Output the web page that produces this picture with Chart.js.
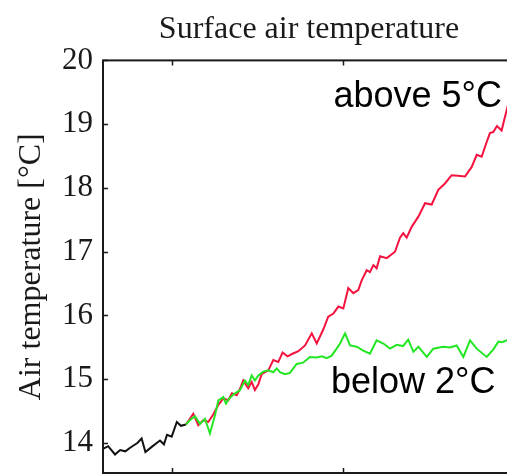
<!DOCTYPE html>
<html>
<head>
<meta charset="utf-8">
<script src="https://cdn.jsdelivr.net/npm/chart.js@4.4.0/dist/chart.umd.min.js"></script>
<style>
html, body { margin: 0; padding: 0; background: #fff; overflow: hidden; }
#wrap { width: 507px; height: 474px; overflow: hidden; }
</style>
</head>
<body>
<div id="wrap"><canvas id="chartline" width="530" height="474"></canvas></div>
<script>
// historical run (black)
var histYears = [1860, 1863, 1867, 1870, 1873, 1876, 1880, 1882.5, 1884.7, 1888.4, 1891.3, 1893.2, 1895.5, 1897.3, 1900, 1903, 1905.4, 1908.3];
var histTemps = [13.91, 13.95, 13.82, 13.89, 13.87, 13.93, 14.0, 14.07, 13.86, 13.94, 14.0, 14.04, 13.98, 14.13, 14.10, 14.33, 14.27, 14.29];

// "above 5°C" run (red)
var aboveYears = [1908.3, 1912.6, 1915.5, 1918.4, 1921.3, 1924.3, 1927.2, 1930.1, 1933.0, 1935.1, 1937.9, 1939.8, 1941.7, 1944.6, 1946.6, 1948.5, 1950.5, 1952.4, 1956.3, 1959.2, 1962.1, 1964.6, 1967.5, 1970.4, 1973.8, 1977.7, 1981.6, 1984.5, 1988.3, 1991.2, 1994.2, 1997.1, 2000.0, 2002.9, 2005.8, 2008.7, 2010.7, 2013.6, 2015.5, 2017.5, 2019.4, 2021.4, 2025.3, 2028.2, 2030.1, 2033.0, 2034.9, 2036.9, 2039.8, 2043.7, 2047.6, 2051.5, 2055.3, 2059.2, 2063.1, 2066.8, 2070.9, 2074.8, 2077.7, 2080.6, 2083.5, 2085.4, 2087.4, 2089.5, 2092.2, 2094.2, 2095.9, 2099];
var aboveTemps = [14.29, 14.46, 14.28, 14.36, 14.33, 14.45, 14.60, 14.70, 14.67, 14.78, 14.75, 14.85, 14.98, 14.86, 14.96, 14.83, 14.92, 15.08, 15.14, 15.30, 15.27, 15.42, 15.36, 15.40, 15.44, 15.53, 15.72, 15.56, 15.78, 15.98, 16.03, 16.14, 16.11, 16.43, 16.35, 16.40, 16.55, 16.71, 16.68, 16.79, 16.74, 16.93, 16.90, 16.96, 17.00, 17.22, 17.29, 17.22, 17.39, 17.55, 17.76, 17.74, 17.97, 18.07, 18.20, 18.19, 18.18, 18.33, 18.52, 18.49, 18.72, 18.86, 18.88, 18.97, 18.90, 19.12, 19.30, 19.45];

// "below 2°C" run (green)
var belowYears = [1908.3, 1910.7, 1913.6, 1916.5, 1919.4, 1922.3, 1925.2, 1927.2, 1930.1, 1931.6, 1933.0, 1935.9, 1939.8, 1942.7, 1944.6, 1946.6, 1948.5, 1950.5, 1953.4, 1956.3, 1959.2, 1961.2, 1963.1, 1966.0, 1968.9, 1972.8, 1976.5, 1980.6, 1984.5, 1987.4, 1990.3, 1993.2, 1996.1, 1998.1, 2001.0, 2003.9, 2007.8, 2011.6, 2015.5, 2019.4, 2023.3, 2027.2, 2031.1, 2034.8, 2037.8, 2040.8, 2043.7, 2048.6, 2052.4, 2058.2, 2062.1, 2066.0, 2069.9, 2073.8, 2077.7, 2083.5, 2087.4, 2090.3, 2092.4, 2095.3, 2100];
var belowTemps = [14.29, 14.36, 14.42, 14.30, 14.38, 14.15, 14.43, 14.67, 14.72, 14.62, 14.68, 14.76, 14.83, 14.98, 14.91, 15.06, 14.98, 15.06, 15.12, 15.14, 15.11, 15.17, 15.11, 15.08, 15.10, 15.24, 15.26, 15.35, 15.34, 15.36, 15.33, 15.37, 15.48, 15.56, 15.72, 15.53, 15.51, 15.45, 15.40, 15.61, 15.56, 15.48, 15.54, 15.52, 15.62, 15.43, 15.51, 15.35, 15.48, 15.51, 15.50, 15.53, 15.35, 15.61, 15.48, 15.35, 15.47, 15.59, 15.58, 15.61, 15.60];

var xTickYears = [1900, 2000, 2100];
var yTickValues = [14, 15, 16, 17, 18, 19, 20];

var serif = "'Liberation Serif', 'Times New Roman', serif";

function toPoints(xs, ys) {
	var pts = [];
	for (var i = 0; i < xs.length; i++) {
		pts.push({ x: xs[i], y: ys[i] });
	}
	return pts;
}

// box round the plot, inward ticks on all four sides, and the two run labels
var frameTicks = {
	id: "frameTicks",
	afterDatasetsDraw: function (chart) {
		var ctx = chart.ctx;
		var a = chart.chartArea;
		var xs = chart.scales.x;
		var ys = chart.scales.y;
		var len = 5;
		ctx.save();
		ctx.strokeStyle = "#1a1a1a";
		ctx.lineWidth = 1.5;
		ctx.beginPath();
		for (var i = 0; i < xTickYears.length; i++) {
			var px = Math.round(xs.getPixelForValue(xTickYears[i])) + 0.5;
			ctx.moveTo(px, a.bottom); ctx.lineTo(px, a.bottom - len);
			ctx.moveTo(px, a.top); ctx.lineTo(px, a.top + len);
		}
		for (var j = 0; j < yTickValues.length; j++) {
			var py = Math.round(ys.getPixelForValue(yTickValues[j])) + 0.5;
			ctx.moveTo(a.left, py); ctx.lineTo(a.left + len, py);
			ctx.moveTo(a.right, py); ctx.lineTo(a.right - len, py);
		}
		ctx.stroke();
		ctx.lineWidth = 2;
		ctx.strokeRect(a.left, a.top, a.right - a.left, a.bottom - a.top);

		ctx.fillStyle = "#000";
		ctx.font = "36px 'Liberation Sans', Arial, sans-serif";
		ctx.textBaseline = "alphabetic";
		ctx.textAlign = "right";
		ctx.fillText("above 5°C", xs.getPixelForValue(2092.4), ys.getPixelForValue(19.27));
		ctx.textAlign = "left";
		ctx.fillText("below 2°C", xs.getPixelForValue(1992.8), ys.getPixelForValue(14.78));
		ctx.restore();
	}
};

function CreateChart() {
	var config = {
		type: "line",
		data: {
			datasets: [{
				label: "below 2°C",
				data: toPoints(belowYears, belowTemps),
				borderColor: "#22e622",
				borderWidth: 2,
				pointRadius: 0,
				tension: 0
			}, {
				label: "above 5°C",
				data: toPoints(aboveYears, aboveTemps),
				borderColor: "#f5123e",
				borderWidth: 2,
				pointRadius: 0,
				tension: 0
			}, {
				label: "historical",
				data: toPoints(histYears, histTemps),
				borderColor: "#111",
				borderWidth: 2,
				pointRadius: 0,
				tension: 0
			}]
		},
		options: {
			responsive: false,
			animation: false,
			devicePixelRatio: 1,
			layout: { padding: { left: 0, right: 15, top: 0, bottom: 1 } },
			plugins: {
				legend: { display: false },
				tooltip: { enabled: false },
				title: {
					display: true,
					fullSize: false,
					text: "Surface air temperature",
					color: "#1a1a1a",
					font: { family: serif, size: 32, weight: "normal" },
					padding: { top: 10, bottom: 12 }
				}
			},
			scales: {
				x: {
					type: "linear",
					min: 1860,
					max: 2100,
					grid: { display: false, drawTicks: false },
					border: { display: false },
					ticks: { display: false }
				},
				y: {
					type: "linear",
					min: 13.53,
					max: 20,
					afterBuildTicks: function (scale) {
						scale.ticks = yTickValues.map(function (v) { return { value: v }; });
					},
					afterFit: function (scale) {
						scale.width = 103;
						scale.paddingTop = 0;
						scale.paddingBottom = 0;
					},
					grid: { display: false, drawTicks: false },
					border: { display: false },
					ticks: {
						color: "#1a1a1a",
						padding: 10,
						font: { family: serif, size: 31 }
					},
					title: {
						display: true,
						text: "Air temperature [°C]",
						color: "#1a1a1a",
						font: { family: serif, size: 32 },
						padding: { top: 12, bottom: 0 }
					}
				}
			}
		},
		plugins: [frameTicks]
	};
	var chartctx = document.getElementById("chartline").getContext("2d");
	window.chartline = new Chart(chartctx, config);
}

CreateChart();
</script>
</body>
</html>
